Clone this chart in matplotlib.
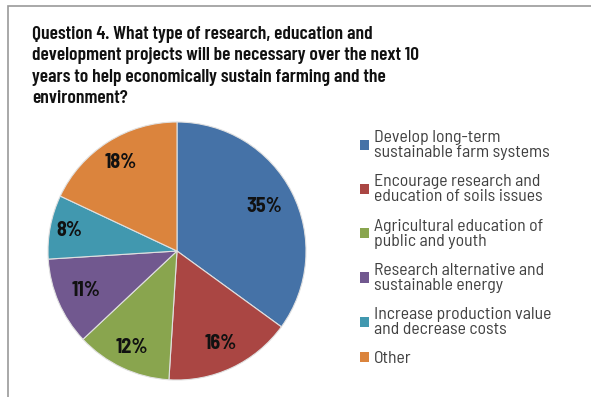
import numpy as np
import matplotlib.pyplot as plt
from matplotlib.patches import Rectangle

categories = ["Develop long-term\nsustainable farm systems",
              "Encourage research and\neducation of soils issues",
              "Agricultural education of\npublic and youth",
              "Research alternative and\nsustainable energy",
              "Increase production value\nand decrease costs",
              "Other"]
values = [35, 16, 12, 11, 8, 18]
colors = ["#4572A7", "#AA4643", "#89A54E", "#71588F", "#4198AF", "#DB843D"]

title = ("Question 4. What type of research, education and\n"
         "development projects will be necessary over the next 10\n"
         "years to help economically sustain farming and the\n"
         "environment?")

TITLE_FONT = ["Barlow Condensed", "DejaVu Sans"]
FONT = ["Barlow Semi Condensed", "DejaVu Sans"]

W, H = 591, 397
fig = plt.figure(figsize=(W / 100, H / 100), dpi=100)
fig.patch.set_facecolor("white")

# frame around the chart area (runs off the right and bottom edge)
fig.add_artist(Rectangle((8 / W, -0.1), 1.2, (H - 6) / H + 0.1, transform=fig.transFigure,
                         fill=False, edgecolor="#999999", linewidth=1.2))

fig.text(32 / W, 1 - 26 / H, title, ha="left", va="top", fontsize=14, fontweight="semibold",
         family=TITLE_FONT, color="#111111", linespacing=1.34)

# pie: center (177, 251), radius 129 px
r = 129
ax = fig.add_axes([(177 - r) / W, 1 - (251 + r) / H, 2 * r / W, 2 * r / H])
wedges, texts = ax.pie(values, colors=colors, startangle=90, counterclock=False,
                       wedgeprops=dict(edgecolor="#e0e0e0", linewidth=0.8))
ax.set_xlim(-1, 1)
ax.set_ylim(-1, 1)
ax.set_aspect("auto")

label_r = [0.76, 0.79, 0.83, 0.77, 0.85, 0.81]
for w, v, lr in zip(wedges, values, label_r):
    ang = np.deg2rad((w.theta1 + w.theta2) / 2)
    ax.text(lr * np.cos(ang), lr * np.sin(ang), f"{v}%", ha="center", va="center",
            fontsize=14.5, fontweight="bold", family=FONT, color="#111111")

leg = fig.legend(wedges, categories, loc="upper left", bbox_to_anchor=(353 / W, 1 - 123 / H),
                 frameon=False, handlelength=0.5, handleheight=0.5,
                 handletextpad=0.3, labelspacing=0.8, borderaxespad=0,
                 prop=dict(family=FONT, size=12.8))
for t in leg.get_texts():
    t.set_color("#404040")
    t.set_linespacing(1.0)
for h in leg.legend_handles:
    h.set_edgecolor("none")

fig.savefig("out.png", dpi=100)
